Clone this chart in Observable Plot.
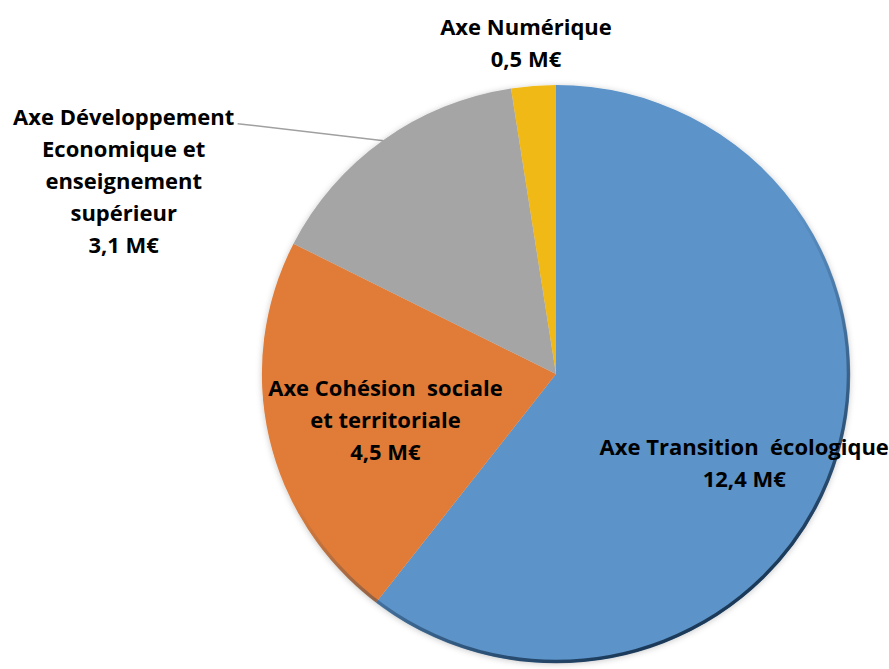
<!DOCTYPE html>
<html><head><meta charset="utf-8">
<script src="https://cdn.jsdelivr.net/npm/d3@7"></script>
<script src="https://cdn.jsdelivr.net/npm/@observablehq/plot@0.6"></script>
<style>
body{margin:0;background:#fff}
#chart text{white-space:pre}
</style>
</head><body><div id="chart"></div>
<script>
// ---- data ----
const categories = [
  "Axe Transition  écologique",
  "Axe Cohésion  sociale\net territoriale",
  "Axe Développement\nEconomique et\nenseignement\nsupérieur",
  "Axe Numérique"
];
const values = [12.4, 4.5, 3.1, 0.5];
const valueLabels = ["12,4 M€", "4,5 M€", "3,1 M€", "0,5 M€"];
const colors = ["#5b93c8", "#e07c38", "#a5a5a5", "#f1b919"];

const slices = d3.pie().sort(null).value(d => d.value)(
  categories.map((c, i) => ({category: c, value: values[i], label: valueLabels[i], color: colors[i]}))
);
slices.forEach(s => { s.mid = (s.startAngle + s.endAngle) / 2; });

// point at fraction k of radius along the slice's mid angle (data units, y up)
const px = (s, k) => Math.sin(s.mid) * k;
const py = (s, k) => Math.cos(s.mid) * k;

// label placement (layout only)
const layout = [
  {k: 0.7, dx: -7, dy: 21},
  {k: 0.6, dx: 1, dy: 5},
  {k: 1.0, dx: -260, dy: 38},
  {k: 1.0, dx: -8, dy: -46}
];

function pieMark(index, scales, values, dims, context) {
  const cx = scales.x(0), cy = scales.y(0);
  const rx = scales.x(1) - cx, ry = cy - scales.y(1);
  const svg = d3.create("svg:g");
  const defs = svg.append("defs");
  const f = defs.append("filter").attr("id", "pshadow").attr("x", "-5%").attr("y", "-5%").attr("width", "110%").attr("height", "110%");
  f.append("feDropShadow").attr("dx", 0).attr("dy", 1).attr("stdDeviation", 3).attr("flood-color", "#000").attr("flood-opacity", 0.22);
  const g1 = defs.append("linearGradient").attr("id", "rim").attr("x1", "0").attr("y1", "0").attr("x2", "0.6").attr("y2", "1");
  g1.append("stop").attr("offset", "0.55").attr("stop-color", "#1d3d5e").attr("stop-opacity", 0.0);
  g1.append("stop").attr("offset", "1").attr("stop-color", "#14304d").attr("stop-opacity", 0.9);
  const arc = d3.arc().innerRadius(0).outerRadius(1);
  const outer = svg.append("g").attr("filter", "url(#pshadow)");
  const g = outer.append("g").attr("transform", `translate(${cx},${cy}) scale(${rx},${ry})`);
  g.selectAll("path").data(slices).join("path")
    .attr("d", arc)
    .attr("fill", d => d.data.color);
  svg.append("ellipse").attr("cx", cx).attr("cy", cy).attr("rx", rx - 1.5).attr("ry", ry - 1.5)
    .attr("fill", "none").attr("stroke", "url(#rim)").attr("stroke-width", 3.5);
  return svg.node();
}

const font = "'Open Sans', Lato, sans-serif";
const textMarks = slices.map((s, i) => Plot.text([s], {
  x: d => px(d, layout[i].k),
  y: d => py(d, layout[i].k),
  text: d => d.data.category + "\n" + d.data.label,
  dx: layout[i].dx, dy: layout[i].dy,
  fontSize: 22, fontWeight: 700, fill: "#000", lineHeight: 1.45,
  textAnchor: "middle", lineAnchor: "middle"
}));

const gray = slices[2];
const chart = Plot.plot({
  width: 889, height: 669,
  marginLeft: 262, marginRight: 39, marginTop: 85, marginBottom: 6,
  x: {domain: [-1, 1], axis: null},
  y: {domain: [-1, 1], axis: null},
  style: {fontFamily: font, background: "#fff"},
  marks: [
    Plot.link([gray], {
      x1: d => px(d, 1.0), y1: d => py(d, 1.0),
      x2: d => px(d, 1.0) - 0.497, y2: d => py(d, 1.0) + 0.059,
      stroke: "#a0a0a0", strokeWidth: 1.5
    }),
    pieMark,
    ...textMarks
  ]
});
document.getElementById("chart").append(chart);
</script>
</body></html>
